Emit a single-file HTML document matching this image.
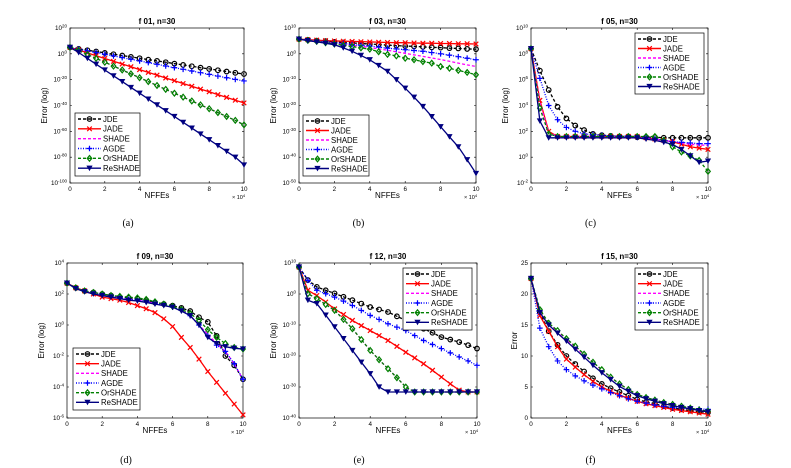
<!DOCTYPE html>
<html><head><meta charset="utf-8"><style>
html,body{margin:0;padding:0;background:#fff;width:791px;height:468px;overflow:hidden}
svg{display:block;font-family:"Liberation Sans",sans-serif}
</style></head><body>
<svg id="fig" width="791" height="468"></svg>
<script>
const names=["JDE","JADE","SHADE","AGDE","OrSHADE","ReSHADE"];
const xTicks=[0,2,4,6,8,10];
// panel a (log10 exponents), x = 0..10 step 0.5 (x1e4)
const a_JDE=[5,3.8,2.8,1.8,0.7,-0.3,-1.3,-2.4,-3.4,-4.5,-5.5,-6.5,-7.6,-8.6,-9.6,-10.7,-11.7,-12.7,-13.7,-14.7,-15.6];
const a_JADE=[5,3,0.7,-1.5,-3.6,-5.8,-7.9,-10,-12.2,-14.4,-16.5,-18.7,-20.8,-23,-25.1,-27.3,-29.4,-31.6,-33.7,-35.9,-38];
const a_SHADE=[5,2.5,-0.5,-3.5,-6.5,-9.5,-12.5,-15.5,-18.5,-21.5,-24.5,-27.5,-30.5,-33.5,-36.5,-39.5,-42.5,-45.5,-48.5,-51.5,-55];
const a_AGDE=[5,3.6,2.3,1,-0.3,-1.6,-2.9,-4.2,-5.5,-6.8,-8.1,-9.4,-10.7,-12,-13.3,-14.6,-15.9,-17.2,-18.5,-19.8,-21];
const a_Or=[5,2.5,-0.5,-3.5,-6.5,-9.5,-12.5,-15.5,-18.5,-21.5,-24.5,-27.5,-30.5,-33.5,-36.5,-39.5,-42.5,-45.5,-48.5,-51.5,-55];
const a_Re=[5,1,-3.5,-8,-12.5,-17,-21.5,-26,-30.5,-35,-39.5,-44,-48.5,-53,-57.5,-62,-66.5,-71,-75.5,-80,-86];
const a_ticks=[20,0,-20,-40,-60,-80,-100];
// panel b
const b_JDE=[5.7,5.4,5.1,4.9,4.6,4.4,4.2,4,3.8,3.6,3.4,3.2,3,2.9,2.7,2.5,2.4,2.2,2.1,1.9,1.8];
const b_JADE=[5.7,5.5,5.3,5.1,5,4.9,4.8,4.7,4.6,4.5,4.4,4.3,4.3,4.2,4.1,4.1,4,4,3.9,3.9,3.8];
const b_SHADE=[5.7,5.3,4.9,4.5,4.1,3.7,3.3,2.9,2.4,1.9,1.4,0.8,0.2,-0.4,-1,-1.6,-2.2,-2.9,-3.6,-4.3,-4.9];
const b_AGDE=[5.7,5.3,5,4.6,4.3,4,3.6,3.3,3,2.6,2.2,1.9,1.6,1.3,1,0.5,0,-0.5,-1.1,-1.7,-2.3];
const b_Or=[5.7,5.2,4.8,4.3,3.8,3.3,2.8,2.3,1.8,0.8,-0.2,-0.8,-1.7,-2.3,-3,-3.6,-4.9,-5.6,-6.4,-7.2,-8.1];
const b_Re=[5.7,5.1,4.6,4.1,3.5,2.3,1,-0.6,-2.3,-4.5,-6.8,-10,-13.3,-16.8,-20.4,-24.3,-28.2,-32.1,-36,-41,-46.3];
const b_ticks=[10,0,-10,-20,-30,-40,-50];
// panel c
const c_JDE=[8.4,6.7,5.2,3.9,3.0,2.45,2.1,1.8,1.7,1.65,1.6,1.6,1.55,1.55,1.55,1.5,1.5,1.5,1.5,1.5,1.5];
const c_JADE=[8.4,4.4,2.0,1.6,1.6,1.6,1.6,1.6,1.6,1.6,1.6,1.6,1.6,1.5,1.4,1.3,1.2,1.0,0.8,0.7,0.6];
const c_SHADE=[8.4,4.2,1.9,1.6,1.6,1.6,1.6,1.6,1.6,1.6,1.6,1.6,1.6,1.5,1.4,1.3,1.2,1.1,1.0,0.95,0.9];
const c_AGDE=[8.4,6.1,4.0,2.9,2.3,2.0,1.8,1.75,1.7,1.65,1.6,1.6,1.55,1.5,1.4,1.3,1.2,1.15,1.1,1.05,1.05];
const c_Or=[8.4,3.8,1.8,1.6,1.6,1.6,1.6,1.6,1.6,1.6,1.6,1.6,1.6,1.6,1.6,1.3,0.8,0.4,0.1,-0.25,-1.1];
const c_Re=[8.4,2.8,1.5,1.5,1.5,1.5,1.5,1.5,1.5,1.5,1.5,1.5,1.5,1.4,1.3,1.15,1.0,0.6,0.1,-0.4,-0.3];
const c_ticks=[10,8,6,4,2,0,-2];
// panel d
const d_JDE=[2.7,2.4,2.2,2.1,2.0,1.9,1.8,1.75,1.7,1.6,1.45,1.35,1.25,1.1,0.9,0.5,0.2,-0.7,-2.0,-2.6,-3.5];
const d_JADE=[2.7,2.4,2.2,2.0,1.8,1.7,1.6,1.45,1.25,1.05,0.8,0.4,-0.1,-0.8,-1.45,-2.2,-3.0,-3.7,-4.4,-5.1,-5.8];
const d_SHADE=[2.7,2.4,2.2,2.05,1.95,1.85,1.75,1.65,1.6,1.5,1.4,1.3,1.15,0.95,0.6,0.0,-0.6,-1.2,-1.7,-2.5,-3.5];
const d_AGDE=[2.7,2.4,2.2,2.05,1.95,1.85,1.75,1.65,1.6,1.5,1.4,1.3,1.15,0.95,0.6,0.0,-0.7,-1.3,-1.7,-2.5,-3.5];
const d_Or=[2.7,2.4,2.2,2.1,2.0,1.9,1.85,1.8,1.75,1.65,1.5,1.35,1.2,1.0,0.75,0.3,-0.3,-0.8,-1.2,-1.45,-1.55];
const d_Re=[2.7,2.35,2.15,2.0,1.9,1.8,1.7,1.6,1.55,1.45,1.35,1.25,1.15,0.9,0.6,0.0,-0.8,-1.2,-1.4,-1.5,-1.55];
const d_ticks=[4,2,0,-2,-4,-6];
// panel e
const e_JDE=[8.7,4.5,2.3,1.2,0.2,-0.9,-2,-3.1,-4.2,-5,-5.8,-7.2,-8.5,-9.8,-11.2,-12.5,-13.9,-14.7,-15.5,-16.5,-17.6];
const e_JADE=[8.7,1.2,-0.5,-2.6,-4.8,-6.6,-8.5,-10.2,-11.8,-13.4,-15,-16.9,-18.8,-20.6,-22.5,-24.6,-26.8,-29,-31,-31.6,-31.6];
const e_SHADE=[8.7,0.1,-1.5,-3.4,-5.3,-8.2,-11.2,-14.7,-18.2,-21.2,-24.1,-27,-30,-31.6,-31.6,-31.6,-31.6,-31.6,-31.6,-31.6,-31.6];
const e_AGDE=[8.7,4.4,1.2,0.1,-1,-2.3,-3.7,-5.3,-6.9,-8.2,-9.6,-10.7,-11.8,-13.4,-15,-16.3,-17.6,-19,-20.3,-21.6,-23];
const e_Or=[8.7,0.1,-1.5,-3.4,-5.3,-8.2,-11.2,-14.7,-18.2,-21.2,-24.1,-27,-30,-31.6,-31.6,-31.6,-31.6,-31.6,-31.6,-31.6,-31.6];
const e_Re=[8.7,-2,-3.1,-6.8,-10.6,-14.4,-18.2,-22,-25.7,-30,-31.6,-31.6,-31.6,-31.6,-31.6,-31.6,-31.6,-31.6,-31.6,-31.6,-31.6];
const e_ticks=[10,0,-10,-20,-30,-40];
// panel f (linear)
const f_JDE=[22.5,17,14,11.8,10,8.7,7.5,6.4,5.5,4.8,4.2,3.6,3,2.6,2.3,1.9,1.6,1.4,1.2,1.0,0.9];
const f_JADE=[22.5,16.5,14,11.5,9.5,8.2,7,5.9,5,4.3,3.7,3.2,2.7,2.3,2,1.7,1.4,1.2,1,0.8,0.6];
const f_SHADE=[22.5,17.3,15.2,14,12.7,11.4,10.2,9,7.7,6.6,5.5,4.6,3.8,3.3,2.9,2.5,2.2,1.9,1.6,1.3,1.1];
const f_AGDE=[22.5,14.5,11.5,9.2,7.8,6.8,6,5.3,4.7,4.1,3.6,3.1,2.7,2.4,2.1,1.9,1.7,1.6,1.5,1.45,1.4];
const f_Or=[22.5,17.5,15.3,14.1,12.8,11.6,10.3,9,7.8,6.6,5.5,4.6,3.8,3.3,2.9,2.5,2.2,1.9,1.6,1.3,1.1];
const f_Re=[22.5,17,15,13.7,12.4,11.1,9.8,8.5,7.3,6.2,5.1,4.3,3.6,3.1,2.7,2.3,2,1.7,1.5,1.2,1.0];
const f_ticks=[25,20,15,10,5,0];
const xStep=0.5;

const styles=[
 {c:"#000",dash:"3,2",m:"o"},{c:"#ff0000",dash:"",m:"x"},{c:"#ff00ff",dash:"3,2",m:""},
 {c:"#0000ff",dash:"1,1.5",m:"+"},{c:"#008000",dash:"3,2",m:"d"},{c:"#000080",dash:"",m:"v"}];
const panels=[
 {id:"a",title:"f 01, n=30",L:70,R:244,T:28,B:183,log:true,ticks:a_ticks,s:[a_JDE,a_JADE,a_SHADE,a_AGDE,a_Or,a_Re],leg:[75,113,65,63],yl:"Error (log)"},
 {id:"b",title:"f 03, n=30",L:299,R:476,T:28,B:183,log:true,ticks:b_ticks,s:[b_JDE,b_JADE,b_SHADE,b_AGDE,b_Or,b_Re],leg:[303,115,66,61],yl:"Error (log)"},
 {id:"c",title:"f 05, n=30",L:531,R:708,T:28,B:183,log:true,ticks:c_ticks,s:[c_JDE,c_JADE,c_SHADE,c_AGDE,c_Or,c_Re],leg:[635,33,69,61],yl:"Error (log)"},
 {id:"d",title:"f 09, n=30",L:67,R:243,T:263,B:418,log:true,ticks:d_ticks,s:[d_JDE,d_JADE,d_SHADE,d_AGDE,d_Or,d_Re],leg:[73,348,67,62],yl:"Error (log)"},
 {id:"e",title:"f 12, n=30",L:299,R:477,T:263,B:418,log:true,ticks:e_ticks,s:[e_JDE,e_JADE,e_SHADE,e_AGDE,e_Or,e_Re],leg:[403,268,69,62],yl:"Error (log)"},
 {id:"f",title:"f 15, n=30",L:531,R:708,T:263,B:418,log:false,ticks:f_ticks,s:[f_JDE,f_JADE,f_SHADE,f_AGDE,f_Or,f_Re],leg:[635,268,68,62],yl:"Error"}];

const NS="http://www.w3.org/2000/svg";
const svg=document.getElementById("fig");
function mk(tag,attrs,parent){const e=document.createElementNS(NS,tag);for(const k in attrs)e.setAttribute(k,attrs[k]);(parent||svg).appendChild(e);return e;}
function marker(g,type,x,y,c){
 const r=2.3;
 if(type==="o")return mk("circle",{cx:x,cy:y,r:r,fill:"none",stroke:c,"stroke-width":1.2},g);
 if(type==="x")return mk("path",{d:`M${x-r} ${y-r}L${x+r} ${y+r}M${x-r} ${y+r}L${x+r} ${y-r}`,stroke:c,"stroke-width":1.2},g);
 if(type==="+")return mk("path",{d:`M${x-r-0.5} ${y}L${x+r+0.5} ${y}M${x} ${y-r-0.5}L${x} ${y+r+0.5}`,stroke:c,"stroke-width":1.2},g);
 if(type==="d")return mk("path",{d:`M${x} ${y-r-0.5}L${x+r} ${y}L${x} ${y+r+0.5}L${x-r} ${y}Z`,fill:"none",stroke:c,"stroke-width":1.2},g);
 if(type==="v")return mk("path",{d:`M${x-r-0.3} ${y-r}L${x+r+0.3} ${y-r}L${x} ${y+r}Z`,fill:c,stroke:c,"stroke-width":0.6},g);
}
panels.forEach(p=>{
 const g=mk("g",{});
 
 
 const ymax=p.ticks[0],ymin=p.ticks[p.ticks.length-1];
 const X=v=>p.L+(v/10)*(p.R-p.L);
 const Y=v=>p.B-(v-ymin)/(ymax-ymin)*(p.B-p.T);
 mk("rect",{x:p.L,y:p.T,width:p.R-p.L,height:p.B-p.T,fill:"#fff",stroke:"#000","stroke-width":0.7},g);
 const t=mk("text",{x:(p.L+p.R)/2,y:p.T-4,"text-anchor":"middle","font-size":"8","font-weight":"bold"},g);t.textContent=p.title;
 
 xTicks.forEach(v=>{
  const x=X(v);
  mk("path",{d:`M${x} ${p.B}v-2M${x} ${p.T}v2`,stroke:"#000","stroke-width":0.6},g);
  const tl=mk("text",{x:x,y:p.B+8,"text-anchor":"middle","font-size":"6.3"},g);tl.textContent=v;
  
 });
 p.ticks.forEach(v=>{
  const y=Y(v);
  mk("path",{d:`M${p.L} ${y}h2M${p.R} ${y}h-2`,stroke:"#000","stroke-width":0.6},g);
  const tl=mk("text",{x:p.L-3,y:y+2,"text-anchor":"end","font-size":"6.3"},g);
  
  if(p.log){tl.textContent="10";const sp=mk("tspan",{dy:"-2.5","font-size":"4.5"},tl);sp.textContent=v;}
  else tl.textContent=v;
 });
 const xl=mk("text",{x:(p.L+p.R)/2,y:p.B+15,"text-anchor":"middle","font-size":"8"},g);xl.textContent="NFFEs";
 
 const xe=mk("text",{x:p.R-12,y:p.B+16,"font-size":"5.5"},g);xe.textContent="× 10";
 const xs=mk("tspan",{dy:"-2","font-size":"4"},xe);xs.textContent="4";
 
 const cy=(p.T+p.B)/2,cx=p.L-(p.log?23:14);
 const yl=mk("text",{x:cx,y:cy,"text-anchor":"middle","font-size":"8",transform:`rotate(-90 ${cx} ${cy})`},g);yl.textContent=p.yl;
 
 p.s.forEach((arr,i)=>{
  const st=styles[i];
  const pts=arr.map((v,k)=>X(k*xStep).toFixed(1)+","+Y(v).toFixed(1)).join(" ");
  const ln=mk("polyline",{points:pts,fill:"none",stroke:st.c,"stroke-width":1.3,"stroke-dasharray":st.dash},g);
  
  
  if(st.m)arr.forEach((v,k)=>{marker(g,st.m,X(k*xStep),Y(v),st.c);});
 });
 const [lx,ly,lw,lh]=p.leg;
 const lg=mk("g",{},g);
 
 mk("rect",{x:lx,y:ly,width:lw,height:lh,fill:"#fff",stroke:"#000","stroke-width":0.7},lg);
 names.forEach((n,i)=>{
  const st=styles[i],ry=ly+6+i*(lh-4)/6;
  mk("line",{x1:lx+3,x2:lx+26,y1:ry,y2:ry,stroke:st.c,"stroke-width":1.4,"stroke-dasharray":st.dash},lg);
  if(st.m)marker(lg,st.m,lx+14.5,ry,st.c);
  const tx=mk("text",{x:lx+28,y:ry+2.8,"font-size":"7.8"},lg);tx.textContent=n;
  
 });
 const cap=mk("text",{x:(p.L+p.R)/2-29,y:p.T>200?463:226,"text-anchor":"middle","font-size":"10","font-family":"Liberation Serif, serif"},g);
 cap.textContent="("+p.id+")";
 
});
</script>
</body></html>
